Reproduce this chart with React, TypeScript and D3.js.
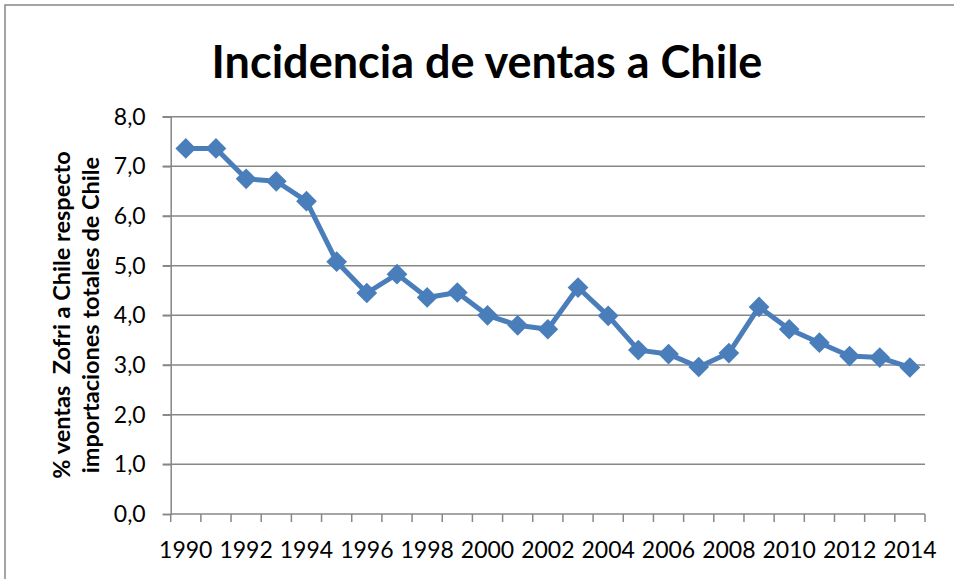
import React, { useEffect, useRef } from 'react'
import * as d3 from 'd3'

const years = ['1990','1991','1992','1993','1994','1995','1996','1997','1998','1999','2000','2001','2002','2003','2004','2005','2006','2007','2008','2009','2010','2011','2012','2013','2014']
const ventas = [7.36, 7.36, 6.75, 6.70, 6.30, 5.08, 4.45, 4.83, 4.36, 4.46, 4.00, 3.80, 3.72, 4.56, 3.99, 3.30, 3.22, 2.96, 3.24, 4.17, 3.72, 3.45, 3.18, 3.15, 2.95]
const yTicks = [0, 1, 2, 3, 4, 5, 6, 7, 8]
const xLabels = ['1990','1992','1994','1996','1998','2000','2002','2004','2006','2008','2010','2012','2014']

const title = 'Incidencia de ventas a Chile'
const yTitle = ['% ventas  Zofri a Chile respecto', 'importaciones totales de Chile']

const W = 954, H = 579
const font = 'Lato, "Noto Sans", sans-serif'
const blue = '#4A7EBB'
const gray = '#878787'

function drawChart(el: SVGSVGElement) {
    const svg = d3.select(el)
    svg.selectAll('*').remove()

    const left = 170.7, right = 925, top = 116.7, bottom = 514

    const x = d3.scaleBand().domain(years).range([left, right])
    const y = d3.scaleLinear().domain([0, 8]).range([bottom, top])

    svg.append('rect').attr('width', W).attr('height', H).attr('fill', 'white')
    svg.append('rect')
        .attr('x', 5).attr('y', 5)
        .attr('width', W).attr('height', H)
        .attr('fill', 'none').attr('stroke', gray).attr('stroke-width', 1.5)

    // gridlines
    svg.append('g').selectAll('line').data(yTicks.filter(d => d > 0)).join('line')
        .attr('x1', left - 8).attr('x2', right)
        .attr('y1', d => y(d)).attr('y2', d => y(d))
        .attr('stroke', gray).attr('stroke-width', 1.5)

    // y axis
    const yAxis = svg.append('g')
        .attr('transform', `translate(${left},0)`)
        .call(d3.axisLeft(y).tickValues(yTicks).tickSize(8).tickPadding(17)
            .tickFormat(d => d3.format('.1f')(d as number).replace('.', ',')))
    yAxis.select('.domain').attr('stroke', gray).attr('stroke-width', 1.5)
    yAxis.selectAll('.tick line').attr('stroke', gray).attr('stroke-width', 1.5)
    yAxis.selectAll('.tick text').attr('font-family', font).attr('font-size', 23).attr('fill', '#000')

    // x axis: ticks at category boundaries
    const bounds = years.map(d => x(d) as number).concat([right])
    svg.append('line')
        .attr('x1', left).attr('x2', right).attr('y1', bottom).attr('y2', bottom)
        .attr('stroke', gray).attr('stroke-width', 1.5)
    svg.append('g').selectAll('line').data(bounds).join('line')
        .attr('x1', d => d).attr('x2', d => d)
        .attr('y1', bottom).attr('y2', bottom + 8)
        .attr('stroke', gray).attr('stroke-width', 1.5)
    svg.append('g').selectAll('text').data(xLabels).join('text')
        .attr('x', d => (x(d) as number) + x.bandwidth() / 2)
        .attr('y', 558)
        .attr('text-anchor', 'middle')
        .attr('font-family', font).attr('font-size', 23)
        .text(d => d)

    // line + markers
    const pts = years.map((d, i) => [(x(d) as number) + x.bandwidth() / 2, y(ventas[i])] as [number, number])
    svg.append('path')
        .attr('d', d3.line()(pts))
        .attr('fill', 'none').attr('stroke', blue).attr('stroke-width', 5)
        .attr('stroke-linejoin', 'round')
    const diamond = d3.symbol(d3.symbolSquare, 215)
    svg.append('g').selectAll('path').data(pts).join('path')
        .attr('d', diamond())
        .attr('transform', d => `translate(${d[0]},${d[1]}) rotate(45)`)
        .attr('fill', blue)

    // titles
    svg.append('text')
        .attr('x', 487).attr('y', 78)
        .attr('text-anchor', 'middle')
        .attr('font-family', font).attr('font-weight', 'bold').attr('font-size', 45)
        .text(title)

    svg.append('g').selectAll('text').data(yTitle).join('text')
        .attr('transform', (d, i) => `translate(${70 + i * 29},315) rotate(-90)`)
        .attr('text-anchor', 'middle')
        .attr('font-family', font).attr('font-weight', 'bold').attr('font-size', 23.5)
        .style('white-space', 'pre')
        .text(d => d)
}

const App = () => {
    const ref = useRef<SVGSVGElement>(null)
    useEffect(() => {
        if (ref.current) drawChart(ref.current)
    }, [])
    return (
        <svg ref={ref} width={W} height={H} style={{ position: 'absolute', left: 0, top: 0 }}></svg>
    )
}

export default App
